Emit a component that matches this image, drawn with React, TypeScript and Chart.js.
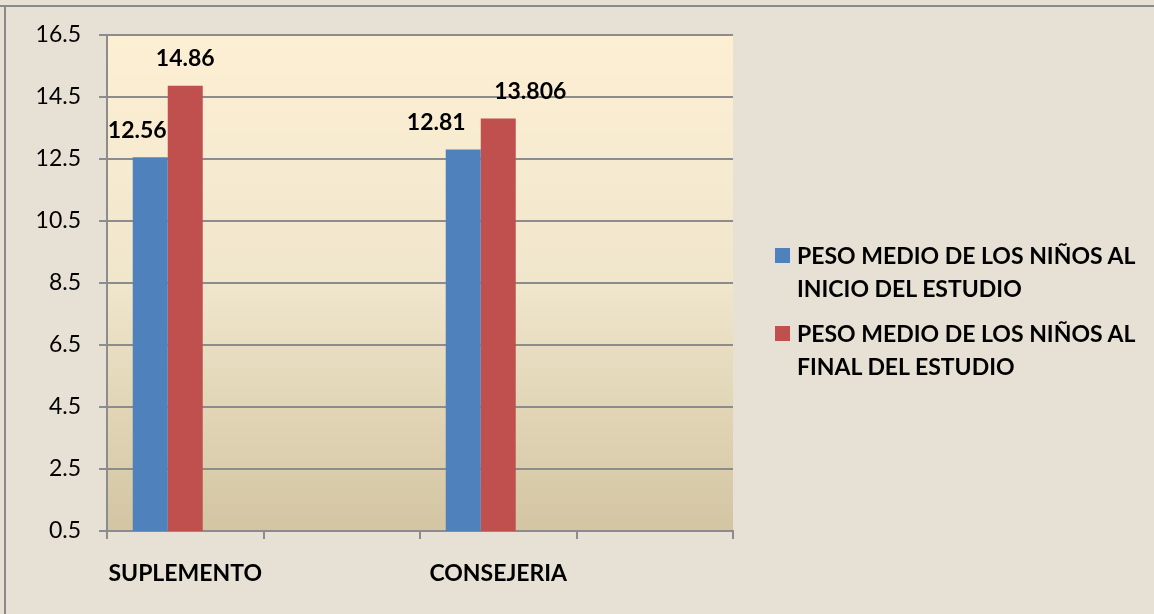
import React, { useEffect, useRef } from "react";
import { Chart, registerables } from "chart.js";

Chart.register(...registerables);

const categories = ["SUPLEMENTO", "", "CONSEJERIA", ""];
const inicioValues = [12.56, null, 12.81, null];
const finalValues = [14.86, null, 13.806, null];
const emptyValues = [null, null, null, null];
const seriesNames = [
  ["PESO MEDIO DE LOS NIÑOS AL", "INICIO DEL ESTUDIO"],
  ["PESO MEDIO DE LOS NIÑOS AL", "FINAL DEL ESTUDIO"],
];
const yMin = 0.5;
const yMax = 16.5;
const yStep = 2;

const COLORS = ["#4f81bd", "#c0504d"];
const FONT = "Lato, 'Open Sans', sans-serif";
// label nudges (px) as placed in the original
const labelOffsets = [
  [-13, 0, -27, 0],
  [0, 0, 32, 0],
];

const plotBg = {
  id: "plotBg",
  beforeDraw(chart: any) {
    const { ctx, chartArea } = chart;
    if (!chartArea) return;
    const g = ctx.createLinearGradient(0, chartArea.top, 0, chartArea.bottom);
    g.addColorStop(0, "#fdefd4");
    g.addColorStop(0.5, "#f0e6cc");
    g.addColorStop(1, "#d3c5a2");
    ctx.save();
    ctx.fillStyle = g;
    ctx.fillRect(chartArea.left, chartArea.top, chartArea.right - chartArea.left, chartArea.bottom - chartArea.top);
    ctx.restore();
  },
};

const valueLabels = {
  id: "valueLabels",
  afterDatasetsDraw(chart: any) {
    const { ctx } = chart;
    ctx.save();
    ctx.font = `bold 23px ${FONT}`;
    ctx.fillStyle = "#000";
    ctx.textAlign = "center";
    ctx.textBaseline = "middle";
    [0, 1].forEach((di) => {
      const meta = chart.getDatasetMeta(di);
      const data = chart.data.datasets[di].data;
      meta.data.forEach((el: any, i: number) => {
        const v = data[i];
        if (v === null || v === undefined) return;
        ctx.fillText(String(v), el.x + labelOffsets[di][i], el.y - 27);
      });
    });
    ctx.restore();
  },
};

export default function App() {
  const ref = useRef<HTMLCanvasElement | null>(null);
  useEffect(() => {
    if (!ref.current) return;
    const chart = new Chart(ref.current, {
      type: "bar",
      data: {
        labels: categories,
        datasets: [
          { label: seriesNames[0].join(" "), data: inicioValues, backgroundColor: COLORS[0] },
          { label: seriesNames[1].join(" "), data: finalValues, backgroundColor: COLORS[1] },
          { label: "", data: emptyValues, backgroundColor: "transparent" },
        ],
      },
      options: {
        animation: false,
        responsive: false,
        maintainAspectRatio: false,
        layout: { padding: { top: 35, right: 421, left: 0, bottom: 0 } },
        datasets: { bar: { categoryPercentage: 0.671, barPercentage: 1 } },
        plugins: {
          legend: { display: false },
          tooltip: { enabled: false },
        },
        scales: {
          x: {
            grid: { drawOnChartArea: false, tickLength: 8, color: "#8c8c8c", lineWidth: 2 },
            border: { display: true, color: "#8c8c8c", width: 2 },
            ticks: {
              color: "#000",
              font: { family: FONT, size: 23, weight: "bold" },
              padding: 21,
              autoSkip: false,
              maxRotation: 0,
            },
            afterFit: (s: any) => {
              s.height = 83;
            },
          },
          y: {
            min: yMin,
            max: yMax,
            grid: { color: "#8c8c8c", lineWidth: 2, tickLength: 8 },
            border: { display: true, color: "#8c8c8c", width: 2 },
            ticks: {
              stepSize: yStep,
              color: "#000",
              font: { family: FONT, size: 23 },
              padding: 18,
              callback: (v: any) => Number(v).toFixed(1),
            },
            afterFit: (s: any) => {
              s.width = 107;
            },
          },
        },
      },
      plugins: [plotBg, valueLabels],
    });
    return () => chart.destroy();
  }, []);

  return (
    <div style={{ position: "fixed", left: 0, top: 0, width: 1154, height: 614, background: "#e7e0d4", overflow: "hidden" }}>
      <div style={{ position: "absolute", left: 0, top: 5, width: 1154, height: 2, background: "#8a8a8a" }} />
      <div style={{ position: "absolute", left: 4, top: 5, width: 2, height: 609, background: "#8a8a8a" }} />
      <canvas ref={ref} width={1154} height={614} style={{ position: "absolute", left: 0, top: 0 }} />
      <div style={{ position: "absolute", left: 775, top: 239, fontFamily: FONT, fontWeight: "bold", fontSize: 23, color: "#000", whiteSpace: "nowrap" }}>
        {seriesNames.map((lines, i) => (
          <div key={i} style={{ position: "relative", paddingLeft: 22, marginBottom: 12, lineHeight: "33px" }}>
            <span style={{ position: "absolute", left: 0, top: 9, width: 15, height: 15, background: COLORS[i] }} />
            {lines.map((l, j) => (
              <div key={j}>{l}</div>
            ))}
          </div>
        ))}
      </div>
    </div>
  );
}
